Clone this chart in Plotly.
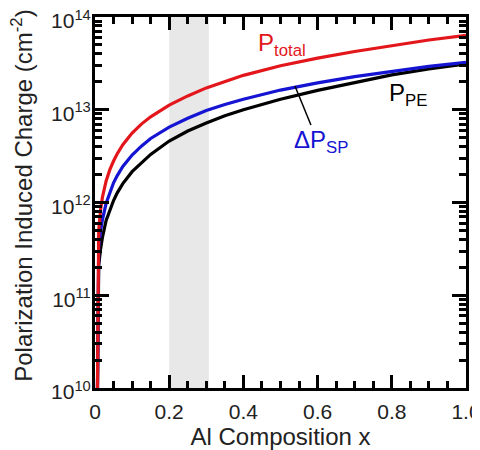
import plotly.graph_objects as go

# Al composition (x) and polarization induced charge (cm^-2)
x_comp = [0.006, 0.01, 0.015, 0.02, 0.03, 0.04, 0.05, 0.06, 0.075, 0.1, 0.125, 0.15, 0.2, 0.25,
          0.3, 0.35, 0.4, 0.5, 0.6, 0.7, 0.8, 0.9, 1.0]
p_total = [5e9, 5.0e11, 8.3e11, 1.14e12, 1.71e12, 2.26e12, 2.8e12, 3.36e12, 4.2e12, 5.6e12,
           7.0e12, 8.4e12, 1.12e13, 1.41e13, 1.72e13, 2.03e13, 2.35e13, 2.98e13, 3.6e13,
           4.25e13, 4.95e13, 5.65e13, 6.35e13]
dp_sp = [5e9, 3.3e11, 4.9e11, 6.5e11, 9.8e11, 1.3e12, 1.63e12, 1.95e12, 2.45e12, 3.25e12,
         4.05e12, 4.9e12, 6.5e12, 8.1e12, 9.8e12, 1.14e13, 1.3e13, 1.63e13, 1.95e13,
         2.28e13, 2.6e13, 2.93e13, 3.25e13]
p_pe = [5e9, 2.1e11, 3.15e11, 4.2e11, 6.4e11, 8.4e11, 1.05e12, 1.27e12, 1.6e12, 2.15e12,
        2.7e12, 3.3e12, 4.6e12, 5.9e12, 7.2e12, 8.6e12, 1.0e13, 1.3e13, 1.62e13, 1.98e13,
        2.38e13, 2.75e13, 3.12e13]

shade_range = [0.2, 0.307]
x_tickvals = [0, 0.2, 0.4, 0.6, 0.8, 1.0]
x_ticktext = ["0", "0.2", "0.4", "0.6", "0.8", "1.0"]
y_tickvals = [1e10, 1e11, 1e12, 1e13, 1e14]
y_ticktext = ["10<sup>10</sup>", "10<sup>11</sup>", "10<sup>12</sup>", "10<sup>13</sup>", "10<sup>14</sup>"]

RED = "#e3161b"
BLUE = "#1414d2"
BLACK = "#000000"
FONT = "Liberation Sans, Arial, Helvetica, sans-serif"
TXT = "#222222"

fig = go.Figure()
for vals, col in [(p_pe, BLACK), (dp_sp, BLUE), (p_total, RED)]:
    fig.add_trace(go.Scatter(x=x_comp, y=vals, mode="lines",
                             line=dict(color=col, width=3.2),
                             showlegend=False, hoverinfo="skip"))

fig.add_shape(type="rect", xref="x", yref="paper", x0=shade_range[0], x1=shade_range[1],
              y0=0, y1=1, fillcolor="#e8e8e8", line=dict(width=0), layer="below")

# leader line from the ΔP_SP label to the blue curve
fig.add_shape(type="line", xref="paper", yref="paper", x0=0.539, y0=0.814, x1=0.582, y1=0.709,
              line=dict(color=BLACK, width=1.5))

fig.add_annotation(text="P<sub>total</sub>", xref="paper", yref="paper", x=0.435, y=0.925,
                   xanchor="left", yanchor="middle", showarrow=False,
                   font=dict(family=FONT, size=24, color=RED))
fig.add_annotation(text="ΔP<sub>SP</sub>", xref="paper", yref="paper", x=0.53, y=0.665,
                   xanchor="left", yanchor="middle", showarrow=False,
                   font=dict(family=FONT, size=24, color=BLUE))
fig.add_annotation(text="P<sub>PE</sub>", xref="paper", yref="paper", x=0.787, y=0.79,
                   xanchor="left", yanchor="middle", showarrow=False,
                   font=dict(family=FONT, size=24, color=BLACK))

# y-axis title placed as a rotated annotation for exact positioning
fig.add_annotation(text="Polarization Induced Charge (cm<sup>-2</sup>)", xref="paper", yref="paper",
                   x=-0.197, y=0.518, xanchor="center", yanchor="middle", textangle=-90,
                   showarrow=False, font=dict(family=FONT, size=24, color=TXT))

# the page body adds an 8px offset, so the figure is 8px smaller than the window
fig.update_layout(
    width=472, height=442,
    margin=dict(l=87, r=14, t=9, b=62),
    plot_bgcolor="white", paper_bgcolor="white",
    font=dict(family=FONT, size=21, color=TXT),
    xaxis=dict(range=[0, 1.0], tickvals=x_tickvals, ticktext=x_ticktext, automargin=False,
               showgrid=False, zeroline=False, showline=True, linecolor=BLACK, linewidth=3,
               mirror="ticks", ticks="inside", ticklen=13, tickwidth=3, tickcolor=BLACK,
               minor=dict(dtick=0.05, ticks="inside", ticklen=7, tickwidth=2.5, tickcolor=BLACK,
                          showgrid=False),
               ticklabelstandoff=3, ticklabeloverflow="allow",
               title=dict(text="Al Composition x", font=dict(size=24), standoff=13),
               tickfont=dict(size=21)),
    yaxis=dict(type="log", range=[10, 14], tickvals=y_tickvals, ticktext=y_ticktext,
               automargin=False,
               showgrid=False, zeroline=False, showline=True, linecolor=BLACK, linewidth=3,
               mirror="ticks", ticks="inside", ticklen=14, tickwidth=3, tickcolor=BLACK,
               minor=dict(dtick="D1", ticks="inside", ticklen=7, tickwidth=2.5, tickcolor=BLACK,
                          showgrid=False),
               ticklabelstandoff=-3, ticklabelshift=4, ticklabeloverflow="allow",
               tickfont=dict(size=21)),
)

fig.write_html("out.html")
